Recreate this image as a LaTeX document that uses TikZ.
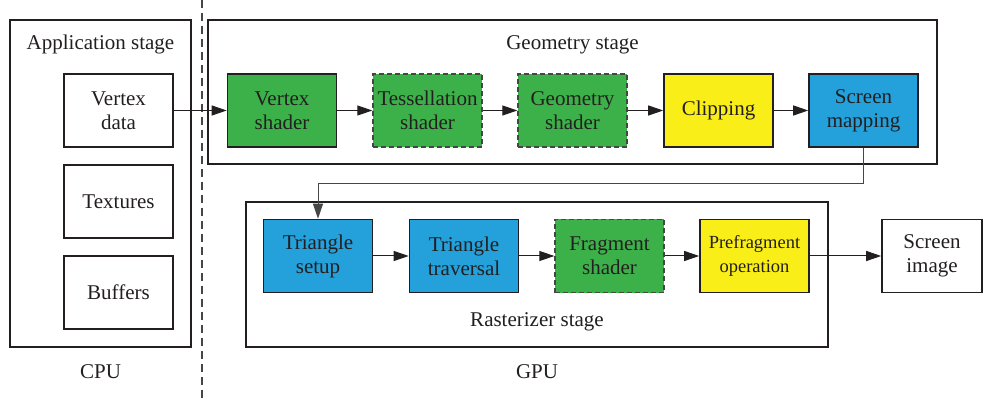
\documentclass[tikz,border=0pt]{standalone}
\usepackage{fontspec}
\setmainfont{Liberation Serif}
\usetikzlibrary{arrows.meta}
\definecolor{gfill}{RGB}{61,177,73}
\definecolor{yfill}{RGB}{250,238,25}
\definecolor{bfill}{RGB}{36,160,218}
\definecolor{txt}{RGB}{35,31,32}
\definecolor{dgray}{RGB}{70,70,70}
\begin{document}
\begin{tikzpicture}[x=1pt,y=-1pt, font=\fontsize{21}{24}\selectfont, text=txt,
 blk/.style={draw=txt, line width=1.6pt, minimum width=109pt, minimum height=73pt, inner sep=0pt, align=center},
 dsh/.style={blk, draw=dgray, dash pattern=on 5pt off 3pt, line width=1.3pt},
 stagebox/.style={draw=txt, line width=1.8pt, inner sep=0pt},
 lbl/.style={inner sep=0pt},
 arr/.style={-{Triangle[length=15pt,width=10pt]}, line width=1pt, draw=txt}]
\useasboundingbox (0,0) rectangle (983,398);
\fill[white] (0,0) rectangle (983,398);
% divider
\draw[dgray, line width=1.3pt, dash pattern=on 8pt off 5pt] (202,0) -- (202,398);
% stage frames
\node[stagebox, minimum width=181pt, minimum height=327pt] (app) at (100.5,183.5) {};
\node[stagebox, minimum width=729pt, minimum height=144pt] (geo) at (572.5,92) {};
\node[stagebox, minimum width=582pt, minimum height=145pt] (ras) at (537,274.5) {};
% stage labels
\node[lbl] (applbl) at (100.5,44) {Application stage};
\node[lbl] (geolbl) at (572.5,45) {Geometry stage};
\node[lbl] (raslbl) at (537,322) {Rasterizer stage};
\node[lbl] (cpu) at (100.5,372) {CPU};
\node[lbl] (gpu) at (537,372) {GPU};
% application
\node[blk, fill=white] (vd) at (118.5,110.5) {Vertex\\data};
\node[blk, fill=white] (tex) at (118.5,201.5) {Textures};
\node[blk, fill=white] (buf) at (118.5,292.5) {Buffers};
% geometry row
\node[blk, fill=gfill] (vs) at (282,110.5) {Vertex\\shader};
\node[dsh, fill=gfill] (tes) at (427.5,110.5) {Tessellation\\shader};
\node[dsh, fill=gfill] (gs) at (572.5,110.5) {Geometry\\shader};
\node[blk, fill=yfill] (clip) at (718.5,110.5) {Clipping};
\node[blk, fill=bfill] (sm) at (863.5,110.5) {Screen\\mapping};
% raster row
\node[blk, fill=bfill] (ts) at (318,256) {Triangle\\setup};
\node[blk, fill=bfill] (tt) at (464,256) {Triangle\\traversal};
\node[dsh, fill=gfill] (fs) at (609.5,256) {Fragment\\shader};
\node[blk, fill=yfill, font=\fontsize{18.5}{24}\selectfont] (pf) at (754.5,256) {Prefragment\\operation};
\node[blk, fill=white, minimum width=100pt] (si) at (932,256) {Screen\\image};
% connectors
\draw[arr] (vd.east) -- (vs.west);
\draw[arr] (vs.east) -- (tes.west);
\draw[arr] (tes.east) -- (gs.west);
\draw[arr] (gs.east) -- (clip.west);
\draw[arr] (clip.east) -- (sm.west);
\coordinate (turn) at (863.5,183);
\draw[arr, line width=0.9pt, draw=dgray] (sm.south) -- (turn) -| (ts.north);
\draw[arr] (ts.east) -- (tt.west);
\draw[arr] (tt.east) -- (fs.west);
\draw[arr] (fs.east) -- (pf.west);
\draw[arr] (pf.east) -- (si.west);
\end{tikzpicture}
\end{document}
